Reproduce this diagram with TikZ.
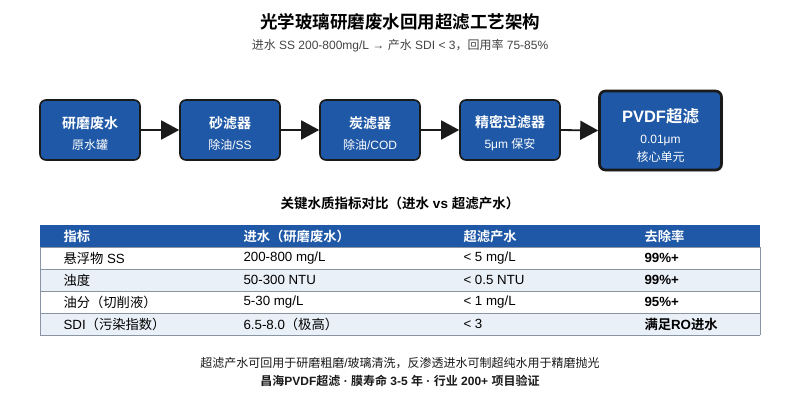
\documentclass[tikz,border=0pt]{standalone}
\usepackage{fontspec}
\setmainfont{Liberation Sans}
\newfontfamily\cjkfont{Noto Sans CJK SC}[BoldFont={* Bold}]
\XeTeXinterchartokenstate=1
\newXeTeXintercharclass\CJKcls
\newcount\cjkcnt
\cjkcnt="4E00
\loop\XeTeXcharclass\cjkcnt=\CJKcls\ifnum\cjkcnt<"9FFF\advance\cjkcnt by 1\repeat
\cjkcnt="3000
\loop\XeTeXcharclass\cjkcnt=\CJKcls\ifnum\cjkcnt<"303F\advance\cjkcnt by 1\repeat
\cjkcnt="FF00
\loop\XeTeXcharclass\cjkcnt=\CJKcls\ifnum\cjkcnt<"FFEF\advance\cjkcnt by 1\repeat
\XeTeXinterchartoks 0 \CJKcls = {\begingroup\cjkfont}
\XeTeXinterchartoks 4095 \CJKcls = {\begingroup\cjkfont}
\XeTeXinterchartoks \CJKcls 0 = {\endgroup}
\XeTeXinterchartoks \CJKcls 4095 = {\endgroup}
\usetikzlibrary{arrows.meta,shadows}
\definecolor{boxblue}{HTML}{1F58A6}
\definecolor{rowblue}{HTML}{EAF0F8}
\definecolor{edgegray}{HTML}{8A94A2}
\definecolor{subgray}{HTML}{444444}
\definecolor{dark}{HTML}{1A1A1A}
\tikzset{
  stage/.style={draw=dark, line width=1.6pt, fill=boxblue, rounded corners=6pt, inner sep=0pt},
  stagetext/.style={text=white, align=center, inner sep=0pt},
  flow/.style={draw=dark, line width=1.8pt, -{Triangle[length=18pt,width=19pt]}},
  cell/.style={anchor=west, font=\fontsize{13.3}{15}\selectfont, text=black},
  bcell/.style={anchor=west, font=\fontsize{13.3}{15}\selectfont\bfseries, text=black},
  hcell/.style={anchor=west, font=\fontsize{13.3}{15}\selectfont\bfseries, text=white},
}
\begin{document}
\begin{tikzpicture}[x=1pt,y=-1pt]
\useasboundingbox (0,0) rectangle (800,400);
\fill[white] (0,0) rectangle (800,400);
% titles
\node[font=\fontsize{17.5}{20}\selectfont\bfseries, text=black] (title) at (400,22) {光学玻璃研磨废水回用超滤工艺架构};
\node[font=\fontsize{12}{14}\selectfont, text=subgray] (subtitle) at (400,46) {进水 SS 200-800mg/L → 产水 SDI < 3，回用率 75-85\%};
% stages
\node[stage, minimum width=100pt, minimum height=60pt] (s1) at (90,130) {};
\node[stage, minimum width=100pt, minimum height=60pt] (s2) at (230,130) {};
\node[stage, minimum width=100pt, minimum height=60pt] (s3) at (370,130) {};
\node[stage, minimum width=100pt, minimum height=60pt] (s4) at (510,130) {};
\node[stage, line width=2.6pt, minimum width=122pt, minimum height=79pt, drop shadow={opacity=0.25, shadow xshift=1.5pt, shadow yshift=-1.5pt}] (s5) at (660.5,130.5) {};
\node[stagetext] (t1) at ([yshift=-3.5pt]s1.center) {{\fontsize{14}{17}\selectfont\bfseries 研磨废水}\\[9pt]{\fontsize{12}{14}\selectfont 原水罐}};
\node[stagetext] (t2) at ([yshift=-3.5pt]s2.center) {{\fontsize{14}{17}\selectfont\bfseries 砂滤器}\\[9pt]{\fontsize{12}{14}\selectfont 除油/SS}};
\node[stagetext] (t3) at ([yshift=-3.5pt]s3.center) {{\fontsize{14}{17}\selectfont\bfseries 炭滤器}\\[9pt]{\fontsize{12}{14}\selectfont 除油/COD}};
\node[stagetext] (t4) at ([yshift=-3.5pt]s4.center) {{\fontsize{14}{17}\selectfont\bfseries 精密过滤器}\\[9pt]{\fontsize{12}{14}\selectfont 5μm 保安}};
\node[stagetext] (t5) at ([yshift=-5pt]s5.center) {{\fontsize{16.5}{19}\selectfont\bfseries PVDF超滤}\\[9pt]{\fontsize{12}{14}\selectfont 0.01μm}\\[4pt]{\fontsize{12}{14}\selectfont 核心单元}};
\draw[flow] (s1.east) -- (s2.west);
\draw[flow] (s2.east) -- (s3.west);
\draw[flow] (s3.east) -- (s4.west);
\draw[flow] (s4.east) -- (s5.west);
% table title
\node[font=\fontsize{13.5}{16}\selectfont\bfseries, text=black] (ttitle) at (400,203) {关键水质指标对比（进水 vs 超滤产水）};
% table
\fill[boxblue] (40,225) rectangle (760,247);
\fill[white] (40,247) rectangle (760,269);
\fill[rowblue] (40,269) rectangle (760,291);
\fill[white] (40,291) rectangle (760,313);
\fill[rowblue] (40,313) rectangle (760,335);
\draw[edgegray, line width=0.9pt] (40,247) -- (760,247) (40,269) -- (760,269) (40,291) -- (760,291) (40,313) -- (760,313) (40,335) -- (760,335);
\draw[edgegray, line width=0.9pt] (40,247) -- (40,335) (760,247) -- (760,335);
\node[hcell] (h1) at (60,236) {指标};
\node[hcell] (h2) at (240,236) {进水（研磨废水）};
\node[hcell] (h3) at (460,236) {超滤产水};
\node[hcell] (h4) at (641,236) {去除率};
\node[cell] (a1) at (60,258) {悬浮物 SS};
\node[cell] (a2) at (240,258) {200-800 mg/L};
\node[cell] (a3) at (460,258) {< 5 mg/L};
\node[bcell] (a4) at (641,258) {99\%+};
\node[cell] (b1) at (60,280) {浊度};
\node[cell] (b2) at (240,280) {50-300 NTU};
\node[cell] (b3) at (460,280) {< 0.5 NTU};
\node[bcell] (b4) at (641,280) {99\%+};
\node[cell] (c1) at (60,302) {油分（切削液）};
\node[cell] (c2) at (240,302) {5-30 mg/L};
\node[cell] (c3) at (460,302) {< 1 mg/L};
\node[bcell] (c4) at (641,302) {95\%+};
\node[cell] (d1) at (60,324) {SDI（污染指数）};
\node[cell] (d2) at (240,324) {6.5-8.0（极高）};
\node[cell] (d3) at (460,324) {< 3};
\node[bcell] (d4) at (641,324) {满足RO进水};
% footer
\node[font=\fontsize{12}{14}\selectfont, text=dark] (f1) at (400,363) {超滤产水可回用于研磨粗磨/玻璃清洗，反渗透进水可制超纯水用于精磨抛光};
\node[font=\fontsize{12}{14}\selectfont\bfseries, text=dark] (f2) at (400,381) {昌海PVDF超滤 · 膜寿命 3-5 年 · 行业 200+ 项目验证};
\end{tikzpicture}
\end{document}
